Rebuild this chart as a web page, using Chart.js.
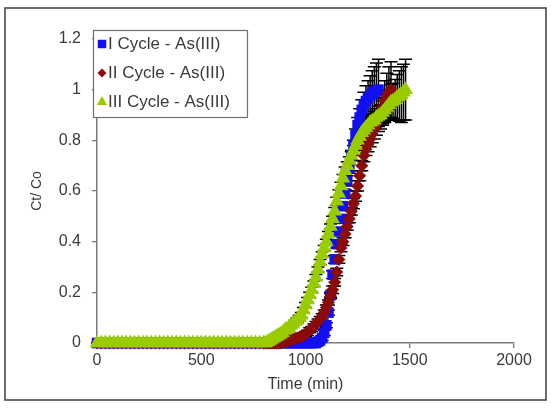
<!DOCTYPE html>
<html><head><meta charset="utf-8">
<script src="https://cdn.jsdelivr.net/npm/chart.js@4.4.1/dist/chart.umd.min.js"></script>
<style>html,body{margin:0;padding:0;background:#fff}#wrap{position:relative;width:551px;height:408px}</style>
</head><body><div id="wrap"><canvas id="c" width="551" height="408"></canvas></div>
<script>
// ---- DATA ----
const times = [
  0,20,40,60,80,100,120,140,160,180,
  200,220,240,260,280,300,320,340,360,380,
  400,420,440,460,480,500,520,540,560,580,
  600,620,640,660,680,700,720,740,760,780,
  800,
  810,820,830,840,850,860,870,880,890,900,
  910,920,930,940,950,960,970,980,990,1000,
  1010,1020,1030,1040,1050,1060,1070,1080,1090,1100,
  1110,1120,1130,1140,1150,1160,1170,1180,1190,1200,
  1210,1220,1230,1240,1250,1260,1270,1280,1290,1300,
  1310,1320,1330,1340,1350,1360,1370,1380,1390,1400,
  1410,1420,1430,1440,1450,1460,1470,1480
];
const seriesLabels = ['I Cycle - As(III)', 'II Cycle - As(III)', 'III Cycle - As(III)'];

// Cycle I (t = 0 .. 1350)
const cycle1 = [
  0,0,0,0,0,0,0,0,0,0,
  0,0,0,0,0,0,0,0,0,0,
  0,0,0,0,0,0,0,0,0,0,
  0,0,0,0,0,0,0,0,0,0,
  0,0,0,0,0,0,0,0,0,0,
  0,0,0,0,0,0,0,0,0,0,
  0,0,0,0,0,
  0,0.005,0.01,0.02,0.04,0.07,0.12,0.19,0.27,0.33,
  0.39,0.44,0.49,0.54,0.59,0.64,0.69,0.74,0.78,0.82,
  0.86,0.89,0.92,0.94,0.955,0.965,0.975,0.985,0.99,0.995,
  1.0
];
const cycle1Err = [
  0,0,0,0,0,0,0,0,0,0,
  0,0,0,0,0,0,0,0,0,0,
  0,0,0,0,0,0,0,0,0,0,
  0,0,0,0,0,0,0,0,0,0,
  0,0,0,0,0,0,0,0,0,0,
  0,0,0,0,0,0,0,0,0,0,
  0,0,0,0,0,
  0,0.005,0.005,0.01,0.01,0.01,0.01,0.01,0.015,0.015,
  0.015,0.015,0.015,0.015,0.015,0.02,0.02,0.02,0.02,0.025,
  0.03,0.035,0.04,0.05,0.06,0.07,0.08,0.09,0.1,0.11,
  0.12
];

// Cycle II (t = 0 .. 1410)
const cycle2 = [
  0,0,0,0,0,0,0,0,0,0,
  0,0,0,0,0,0,0,0,0,0,
  0,0,0,0,0,0,0,0,0,0,
  0,0,0,0,0,0,0,0,0,0,
  0,0,0,0,0,0,0,0,
  0,0.003,0.005,0.007,0.01,0.012,0.015,0.018,0.02,0.022,
  0.025,0.03,0.035,0.04,0.05,0.055,0.065,0.075,0.085,0.095,
  0.105,0.12,0.14,0.16,0.185,0.21,0.24,0.28,0.33,0.375,
  0.40,0.43,0.46,0.49,0.52,0.55,0.58,0.62,0.66,0.70,
  0.74,0.765,0.785,0.805,0.825,0.845,0.865,0.885,0.905,0.93,
  0.955,0.975,0.99,1.0
];
const cycle2Err = [
  0,0,0,0,0,0,0,0,0,0,
  0,0,0,0,0,0,0,0,0,0,
  0,0,0,0,0,0,0,0,0,0,
  0,0,0,0,0,0,0,0,0,0,
  0,0,0,0,0,0,0,0,
  0,0,0,0,0.005,0.005,0.005,0.005,0.005,0.005,
  0.01,0.01,0.01,0.01,0.01,0.01,0.01,0.01,0.01,0.01,
  0.01,0.01,0.01,0.01,0.01,0.015,0.015,0.015,0.015,0.015,
  0.015,0.015,0.015,0.015,0.015,0.02,0.02,0.02,0.02,0.02,
  0.025,0.025,0.03,0.03,0.035,0.04,0.045,0.05,0.06,0.07,
  0.08,0.09,0.1,0.11
];

// Cycle III (t = 0 .. 1480)
const cycle3 = [
  0,0,0,0,0,0,0,0,0,0,
  0,0,0,0,0,0,0,0,0,0,
  0,0,0,0,0,0,0,0,0,0,
  0,0,0,0,0,0,0,0,0,0,
  0,
  0,0.005,0.01,0.015,0.02,0.025,0.03,0.035,0.04,0.05,
  0.055,0.06,0.07,0.075,0.085,0.09,0.1,0.11,0.13,0.15,
  0.17,0.19,0.21,0.235,0.26,0.29,0.32,0.35,0.375,0.40,
  0.43,0.46,0.49,0.52,0.56,0.59,0.62,0.65,0.68,0.70,
  0.72,0.74,0.76,0.78,0.80,0.815,0.83,0.84,0.85,0.86,
  0.87,0.875,0.88,0.89,0.895,0.90,0.91,0.92,0.93,0.94,
  0.95,0.955,0.96,0.97,0.975,0.98,0.99,1.0
];
const cycle3Err = [
  0,0,0,0,0,0,0,0,0,0,
  0,0,0,0,0,0,0,0,0,0,
  0,0,0,0,0,0,0,0,0,0,
  0,0,0,0,0,0,0,0,0,0,
  0,
  0,0.005,0.005,0.005,0.005,0.005,0.005,0.005,0.005,0.005,
  0.005,0.005,0.005,0.005,0.005,0.01,0.01,0.01,0.01,0.01,
  0.01,0.01,0.01,0.01,0.01,0.01,0.01,0.01,0.01,0.01,
  0.01,0.01,0.01,0.015,0.015,0.015,0.015,0.015,0.015,0.015,
  0.015,0.015,0.02,0.02,0.02,0.02,0.02,0.025,0.025,0.025,
  0.03,0.03,0.035,0.035,0.04,0.04,0.045,0.05,0.05,0.06,
  0.07,0.07,0.08,0.09,0.1,0.11,0.11,0.12
];

const xTickValues = [0, 500, 1000, 1500, 2000];
const xTickLabels = ['0', '500', '1000', '1500', '2000'];
const yTickValues = [0, 0.2, 0.4, 0.6, 0.8, 1.0, 1.2];
const yTickLabels = ['0', '0.2', '0.4', '0.6', '0.8', '1', '1.2'];

// ---- CHART ----
const FONT = "'Liberation Sans', Arial, sans-serif";
const TEXT = '#3a3a3a';
const AXIS = '#7a7a7a';

function toPoints(vals) { return vals.map((v, i) => ({ x: times[i], y: v })); }

const styles = [
  { color: '#1010f0', shape: 'rect', radius: 7.5, legendR: 6 },
  { color: '#8b0a0a', shape: 'rectRot', radius: 6.5, legendR: 4.5 },
  { color: '#99cc00', shape: 'triangle', radius: 8.5, legendR: 6 }
];
const values = [cycle1, cycle2, cycle3];
const errors = [cycle1Err, cycle2Err, cycle3Err];

const datasets = values.map((vals, d) => ({
  label: seriesLabels[d],
  data: toPoints(vals),
  errors: errors[d],
  showLine: false,
  pointStyle: styles[d].shape,
  pointRadius: styles[d].radius,
  pointBackgroundColor: styles[d].color,
  pointBorderColor: styles[d].color,
  pointBorderWidth: 0,
  order: 3 - d,
  clip: false
}));

const errorBars = {
  id: 'errorBars',
  beforeDatasetsDraw(chart) {
    const ctx = chart.ctx, ys = chart.scales.y;
    ctx.save();
    ctx.strokeStyle = '#000';
    ctx.lineWidth = 1.5;
    chart.data.datasets.forEach((ds, d) => {
      const meta = chart.getDatasetMeta(d);
      meta.data.forEach((pt, i) => {
        const e = ds.errors[i];
        if (!e) return;
        const v = ds.data[i].y;
        const yt = ys.getPixelForValue(v + e), yb = ys.getPixelForValue(v - e);
        const x = pt.x, cw = 6.5;
        ctx.beginPath();
        ctx.moveTo(x, yt); ctx.lineTo(x, yb);
        ctx.moveTo(x - cw, yt); ctx.lineTo(x + cw, yt);
        ctx.moveTo(x - cw, yb); ctx.lineTo(x + cw, yb);
        ctx.stroke();
      });
    });
    ctx.restore();
  }
};

function drawMarker(ctx, shape, x, y, r, color) {
  ctx.fillStyle = color;
  ctx.beginPath();
  if (shape === 'rect') {
    const s = r * Math.SQRT1_2;
    ctx.rect(x - s, y - s, 2 * s, 2 * s);
  } else if (shape === 'rectRot') {
    ctx.moveTo(x, y - r); ctx.lineTo(x + r, y); ctx.lineTo(x, y + r); ctx.lineTo(x - r, y); ctx.closePath();
  } else {
    const w = r * Math.sqrt(3) / 2;
    ctx.moveTo(x, y - r); ctx.lineTo(x + w, y + r / 2); ctx.lineTo(x - w, y + r / 2); ctx.closePath();
  }
  ctx.fill();
}

const boxLegend = {
  id: 'boxLegend',
  afterDraw(chart) {
    const ctx = chart.ctx;
    ctx.save();
    const bx = 93.5, by = 30.5, bw = 154, bh = 87;
    ctx.fillStyle = '#fff';
    ctx.fillRect(bx, by, bw, bh);
    ctx.strokeStyle = '#6e6e6e';
    ctx.lineWidth = 1.2;
    ctx.strokeRect(bx, by, bw, bh);
    ctx.font = '17px ' + FONT;
    ctx.textBaseline = 'middle';
    chart.data.datasets.forEach((ds, d) => {
      const cy = 44 + d * 29;
      drawMarker(ctx, styles[d].shape, 102, cy, styles[d].legendR, styles[d].color);
      ctx.fillStyle = TEXT;
      ctx.fillText(ds.label, 108, cy);
    });
    // outer frame
    ctx.strokeStyle = '#4a4a4a';
    ctx.lineWidth = 1.6;
    ctx.strokeRect(5, 8, 541, 392);
    ctx.restore();
  }
};

new Chart(document.getElementById('c'), {
  type: 'scatter',
  data: { datasets },
  options: {
    responsive: false,
    animation: false,
    devicePixelRatio: 1,
    layout: { padding: { left: 25, right: 37, top: 39, bottom: 14 } },
    plugins: { legend: { display: false }, tooltip: { enabled: false } },
    scales: {
      x: {
        type: 'linear', min: 0, max: 2000,
        afterBuildTicks(s) { s.ticks = xTickValues.map(v => ({ value: v })); },
        afterFit(s) { s.height = 408 - 14 - 343; },
        ticks: { callback: (v, i) => xTickLabels[i], font: { family: FONT, size: 16 }, color: TEXT, padding: 3, maxRotation: 0 },
        grid: { display: true, drawOnChartArea: false, drawTicks: true, tickLength: 5, color: AXIS, lineWidth: 1.3 },
        border: { display: true, color: AXIS, width: 1.5 },
        title: { display: true, text: 'Time (min)', font: { family: FONT, size: 16 }, color: TEXT, padding: 0 }
      },
      y: {
        type: 'linear', min: 0, max: 1.2,
        afterBuildTicks(s) { s.ticks = yTickValues.map(v => ({ value: v })); },
        afterFit(s) { s.width = 97 - 25; },
        ticks: { callback: (v, i) => yTickLabels[i], font: { family: FONT, size: 16 }, color: TEXT, padding: 11 },
        grid: { display: true, drawOnChartArea: false, drawTicks: true, tickLength: 5, color: AXIS, lineWidth: 1.3 },
        border: { display: true, color: AXIS, width: 1.5 },
        title: { display: true, text: 'Ct/ Co', font: { family: FONT, size: 14 }, color: TEXT, padding: { top: 4, bottom: 0 } }
      }
    }
  },
  plugins: [errorBars, boxLegend]
});
</script>
</body></html>
